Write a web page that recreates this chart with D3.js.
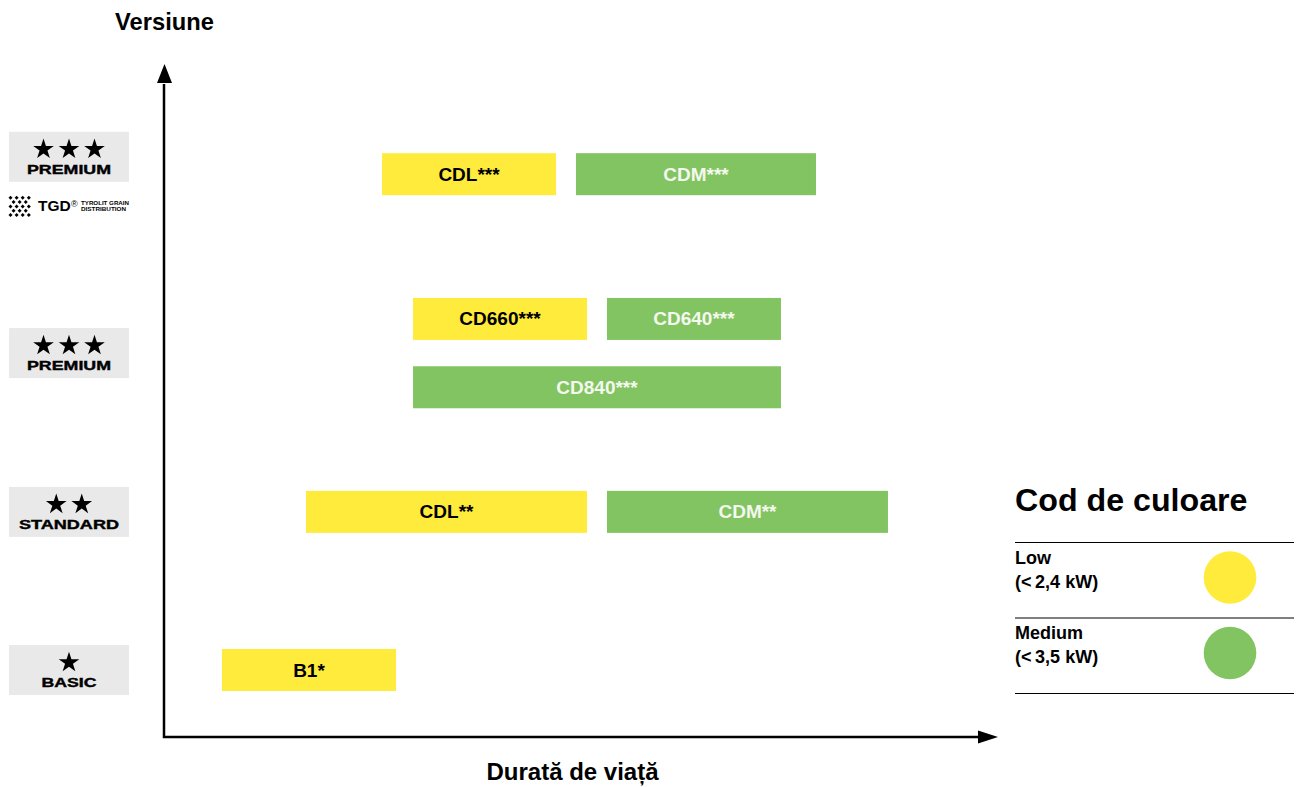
<!DOCTYPE html>
<html><head><meta charset="utf-8">
<script src="https://cdn.jsdelivr.net/npm/d3@7"></script>
<style>
html,body{margin:0;padding:0;background:#fff}
svg{display:block}
text{font-family:"Liberation Sans",Arial,sans-serif;font-weight:700;fill:#000}
</style></head><body>
<script>
// Lifetime (x, 0-10) and version level (y, 0-10)
const barLabels = ["CDL***","CDM***","CD660***","CD640***","CD840***","CDL**","CDM**","B1*"];
const barStart  = [2.659,5.024,3.037,5.402,3.037,1.732,5.402,0.707];
const barEnd    = [4.780,7.951,5.159,7.524,7.524,5.159,8.829,2.829];
const barLevel  = [8.40,8.40,6.24,6.24,5.22,3.36,3.36,1.00];
const barClass  = ["Low","Medium","Low","Medium","Medium","Low","Medium","Low"];

const badgeNames  = ["PREMIUM","PREMIUM","STANDARD","BASIC"];
const badgeStars  = [3,3,2,1];
const badgeLevels = [8.66,5.73,3.36,1.00];

const legendNames = ["Low","Medium"];
const legendNotes = ["(<\u20092,4 kW)","(<\u20093,5 kW)"];
const classColors = ["#ffeb3b","#82c461"];

const xTitle = "Durată de viață";
const yTitle = "Versiune";
const legendTitle = "Cod de culoare";

const W = 1302, H = 787;
const x = d3.scaleLinear().domain([0,10]).range([164,984]);
const y = d3.scaleLinear().domain([0,10]).range([737,67]);
const color = d3.scaleOrdinal().domain(legendNames).range(classColors);

const svg = d3.select("body").append("svg").attr("width",W).attr("height",H).attr("viewBox",`0 0 ${W} ${H}`);

// Axes
const axisG = svg.append("g");
axisG.append("path").attr("d",`M${x(0)},84V${y(0)}H980`).attr("fill","none").attr("stroke","#000").attr("stroke-width",2.5);
axisG.append("path").attr("d",`M${x(0)-7},83L${x(0)+0.5},64L${x(0)+8},83Z`).attr("fill","#000");
axisG.append("path").attr("d",`M978,730.5L998,${y(0)}L978,743.5Z`).attr("fill","#000");
svg.append("text").attr("x",164.5).attr("y",30).attr("text-anchor","middle").attr("font-size",23.7).text(yTitle);
svg.append("text").attr("x",572.5).attr("y",780).attr("text-anchor","middle").attr("font-size",24).text(xTitle);

// Bars
const bars = svg.append("g").selectAll("g").data(barLabels.map((l,i)=>({l,s:barStart[i],e:barEnd[i],v:barLevel[i],c:barClass[i]}))).join("g");
bars.append("rect").attr("x",d=>x(d.s)).attr("y",d=>y(d.v)-21).attr("width",d=>x(d.e)-x(d.s)).attr("height",42).attr("fill",d=>color(d.c));
bars.append("text").attr("x",d=>(x(d.s)+x(d.e))/2).attr("y",d=>y(d.v)+6.5).attr("text-anchor","middle").attr("font-size",19)
  .style("fill",d=>d.c==="Low"?"#000":"#f4f8ef").text(d=>d.l);

// Version badges
const starPath = d3.symbol().type(d3.symbolStar).size(132);
const badges = svg.append("g").selectAll("g").data(badgeNames.map((n,i)=>({n,k:badgeStars[i],v:badgeLevels[i]}))).join("g")
  .attr("transform",d=>`translate(69,${y(d.v)})`);
badges.append("rect").attr("x",-60).attr("y",-25).attr("width",120).attr("height",50).attr("fill","#e9e9e9");
badges.each(function(d){
  const g = d3.select(this);
  d3.range(d.k).forEach(i=>{
    g.append("path").attr("d",starPath).attr("fill","#000")
      .attr("transform",`translate(${(i-(d.k-1)/2)*25.5},-7.5)`);
  });
  const widths = {PREMIUM:84,STANDARD:100,BASIC:55};
  g.append("text").attr("x",0).attr("y",17).attr("text-anchor","middle").attr("font-size",13)
    .attr("textLength",widths[d.n]).attr("lengthAdjust","spacingAndGlyphs")
    .style("stroke","#000").style("stroke-width",0.4).text(d.n);
});

// TGD mark
const tgdCols = [[0,1,2,3],[0.5,1.5,2.5],[0,1,2,3],[0.5,1.5,2.5],[0,1,2,3]];
const tgd = svg.append("g").attr("transform","translate(9,196)");
const dia = d3.symbol().type(d3.symbolSquare).size(8);
tgdCols.forEach((row,r)=>row.forEach(c=>{
  tgd.append("path").attr("d",dia).attr("fill","#000").attr("transform",`translate(${1.5+c*6.1},${1.8+r*4.3}) rotate(45)`);
}));
svg.append("text").attr("x",38).attr("y",210.8).attr("font-size",15.5).text("TGD");
svg.append("text").attr("x",71).attr("y",207).attr("font-size",9).style("font-weight",400).text("®");
svg.append("text").attr("x",81).attr("y",205).attr("font-size",5.6).attr("textLength",48).attr("lengthAdjust","spacingAndGlyphs").text("TYROLIT GRAIN");
svg.append("text").attr("x",81).attr("y",211).attr("font-size",5.6).attr("textLength",45).attr("lengthAdjust","spacingAndGlyphs").text("DISTRIBUTION");

// Legend
const lg = svg.append("g");
lg.append("text").attr("x",1015).attr("y",511).attr("font-size",32.2).text(legendTitle);
const ruleY = d3.scaleLinear().domain([0,2]).range([542.5,693.5]);
d3.range(3).forEach(i=>lg.append("line").attr("x1",1015).attr("x2",1294).attr("y1",ruleY(i)).attr("y2",ruleY(i)).attr("stroke","#000").attr("stroke-width",1.2));
legendNames.forEach((n,i)=>{
  lg.append("text").attr("x",1015).attr("y",ruleY(i)+21).attr("font-size",18).text(n);
  lg.append("text").attr("x",1015).attr("y",ruleY(i)+45).attr("font-size",18).text(legendNotes[i]);
  lg.append("circle").attr("cx",1230).attr("cy",ruleY(i)+35).attr("r",26.3).attr("fill",classColors[i]);
});
</script>
</body></html>
